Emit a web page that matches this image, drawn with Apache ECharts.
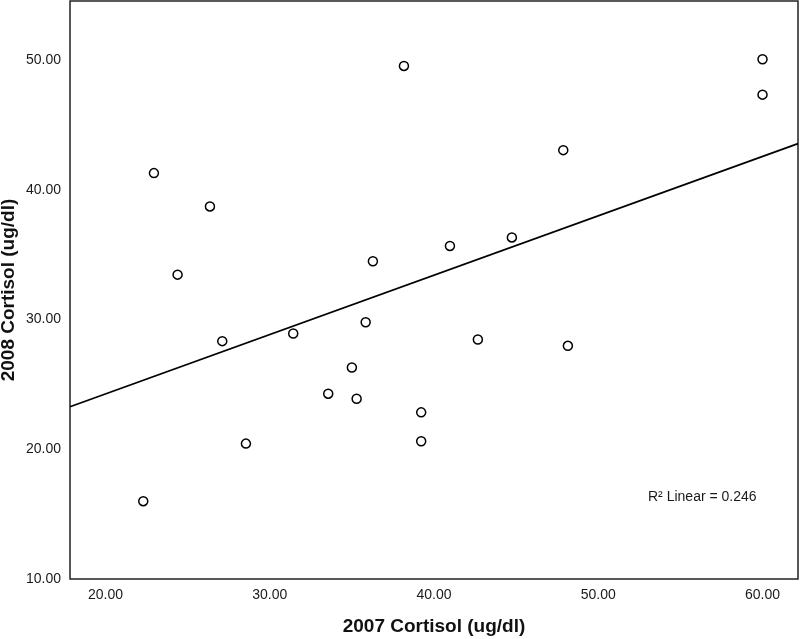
<!DOCTYPE html>
<html>
<head>
<meta charset="utf-8">
<script src="https://cdn.jsdelivr.net/npm/echarts@6/dist/echarts.min.js"></script>
<style>html,body{margin:0;padding:0;background:#fff;}#c{width:800px;height:639px;}</style>
</head>
<body>
<div id="c"></div>
<script>
var cortisol2007 = [22.95, 26.36, 24.39, 36.28, 27.11, 31.43, 35.84, 40.97, 44.74, 42.67, 35.00, 33.56, 35.29, 39.22, 39.22, 47.87, 48.15, 60.00, 60.00, 38.17, 28.55, 22.30];
var cortisol2008 = [41.30, 38.73, 33.47, 34.50, 28.34, 28.93, 29.80, 35.68, 36.34, 28.47, 26.31, 24.29, 23.90, 22.85, 20.62, 43.07, 27.98, 50.08, 47.35, 49.56, 20.44, 16.00];
var xTicks = [20, 30, 40, 50, 60];
var yTicks = [10, 20, 30, 40, 50];
var xTitle = '2007 Cortisol (ug/dl)';
var yTitle = '2008 Cortisol (ug/dl)';
var r2Text = 'R² Linear = 0.246';

var xMin = 17.84, xMax = 62.16, yMin = 10, yMax = 54.57;

var pts = cortisol2007.map(function (x, i) { return [x, cortisol2008[i]]; });
// least squares fit
var n = pts.length, mx = 0, my = 0;
pts.forEach(function (p) { mx += p[0]; my += p[1]; });
mx /= n; my /= n;
var sxy = 0, sxx = 0;
pts.forEach(function (p) { sxy += (p[0] - mx) * (p[1] - my); sxx += (p[0] - mx) * (p[0] - mx); });
var slope = sxy / sxx, icpt = my - slope * mx;
var fitLine = [[xMin, icpt + slope * xMin], [xMax, icpt + slope * xMax]];

function fmt(list) {
  return function (v) {
    for (var i = 0; i < list.length; i++) if (Math.abs(v - list[i]) < 1e-6) return list[i].toFixed(2);
    return '';
  };
}

var chart = echarts.init(document.getElementById('c'), null, { renderer: 'canvas' });
chart.setOption({
  backgroundColor: '#fff',
  animation: false,
  grid: { left: 70, right: 2, top: 1, bottom: 60, containLabel: false, outerBoundsMode: 'none', show: true, borderColor: '#222', borderWidth: 1.5, backgroundColor: '#fff' },
  xAxis: {
    type: 'value', min: xMin, max: xMax,
    name: xTitle, nameLocation: 'middle', nameGap: 38, nameMoveOverlap: false,
    nameTextStyle: { fontFamily: 'Liberation Sans', fontWeight: 'bold', fontSize: 19, color: '#111' },
    axisLine: { show: false }, axisTick: { show: false }, splitLine: { show: false },
    axisLabel: { formatter: fmt(xTicks), fontFamily: 'Liberation Sans', fontSize: 14, color: '#1a1a1a', margin: 9 }
  },
  yAxis: {
    type: 'value', min: yMin, max: yMax,
    name: yTitle, nameLocation: 'middle', nameGap: 52, nameMoveOverlap: false,
    nameTextStyle: { fontFamily: 'Liberation Sans', fontWeight: 'bold', fontSize: 19, color: '#111' },
    axisLine: { show: false }, axisTick: { show: false }, splitLine: { show: false },
    axisLabel: { formatter: fmt(yTicks), fontFamily: 'Liberation Sans', fontSize: 14, color: '#1a1a1a', margin: 9 }
  },
  series: [
    {
      type: 'line', data: fitLine, showSymbol: false, symbol: 'none',
      lineStyle: { color: '#000', width: 1.8 }, silent: true, z: 2
    },
    {
      type: 'scatter', data: pts, symbol: 'circle', symbolSize: 9,
      itemStyle: { color: '#fff', borderColor: '#000', borderWidth: 1.5, opacity: 1 }, z: 3
    }
  ],
  graphic: [{
    type: 'text', left: 648, top: 490,
    style: { text: r2Text, fontFamily: 'Liberation Sans', fontSize: 14, fill: '#1a1a1a' }
  }]
});
</script>
</body>
</html>
